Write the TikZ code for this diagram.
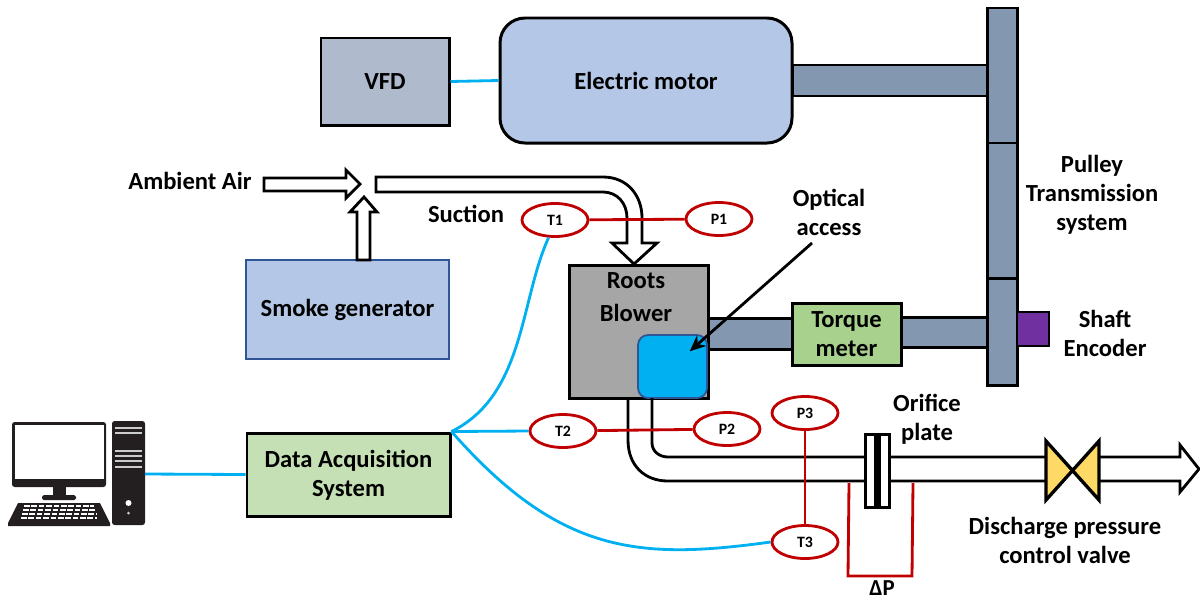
\documentclass[tikz,border=0pt]{standalone}
\usepackage{fontspec}
\setmainfont{Carlito}
\usepackage{xcolor}
\usetikzlibrary{calc,arrows.meta,positioning,shapes.geometric}
\definecolor{steel}{HTML}{8497B0}
\definecolor{paleblue}{HTML}{B4C7E7}
\definecolor{edgeblue}{HTML}{2F5597}
\definecolor{palegreen}{HTML}{C5E0B4}
\definecolor{torquegreen}{HTML}{A9D18E}
\definecolor{encoderviolet}{HTML}{7030A0}
\definecolor{valveyellow}{HTML}{FFD966}
\definecolor{wire}{HTML}{00B0F0}
\definecolor{probe}{HTML}{C00000}
\definecolor{pcblack}{HTML}{231F20}
\begin{document}
\begin{tikzpicture}[x=0.2mm,y=-0.2mm,>={Stealth[length=3.2mm,width=2.8mm]},
      font=\fontsize{14}{16.5}\selectfont\bfseries,
      box/.style={draw=black,line width=1.7pt,align=center,inner sep=0pt},
      shaft/.style={box,fill=steel},
      sensor/.style={ellipse,draw=probe,fill=white,line width=1.6pt,minimum width=1.32cm,
                     minimum height=0.66cm,inner sep=0pt,font=\fontsize{9}{10}\selectfont\bfseries},
      wireline/.style={draw=wire,line width=1.6pt},
      probeline/.style={draw=probe,line width=1.6pt},
      pipe/.style={draw=black,line width=1.6pt},
      lbl/.style={align=center,inner sep=0pt}]
    \useasboundingbox (0,0) rectangle (1200,598);
    % boxes
    \node[box,fill=steel!65!white,minimum width=2.56cm,minimum height=1.74cm] (vfd) at (385,81.5) {VFD};
    \node[box,fill=paleblue,rounded corners=0.5cm,minimum width=5.84cm,minimum height=2.5cm] (motor) at (646,80.5) {Electric motor};
    \node[shaft,minimum width=3.9cm,minimum height=0.62cm] (shafttop) at (889.5,80.5) {};
    \node[shaft,minimum width=1.68cm,minimum height=0.62cm] (shaftleft) at (750,333.5) {};
    \node[shaft,minimum width=1.72cm,minimum height=0.6cm] (shaftright) at (944,332) {};
    \node[shaft,minimum width=0.6cm,minimum height=2.7cm] (pulleya) at (1002,75.5) {};
    \node[shaft,minimum width=0.6cm,minimum height=2.7cm] (pulleyb) at (1002,210.5) {};
    \node[shaft,minimum width=0.6cm,minimum height=2.14cm] (pulleyc) at (1002,331.5) {};
    \node[box,fill=encoderviolet,line width=1pt,minimum width=0.64cm,minimum height=0.68cm] (encoder) at (1033,329) {};
    \node[box,fill=torquegreen,minimum width=2.18cm,minimum height=1.24cm] (torque) at (846.5,334) {Torque\\meter};
    \node[box,fill=black!35,minimum width=2.78cm,minimum height=2.66cm] (blower) at (638.5,331.5) {};
    \node[lbl] (blowertext) at (636,297) {Roots\\[2pt]Blower};
    \node[draw=edgeblue,fill=wire,line width=1pt,rounded corners=0.2cm,minimum width=1.38cm,minimum height=1.26cm,inner sep=0pt] (window) at (672.5,366.5) {};
    \node[draw=edgeblue,fill=paleblue,line width=1pt,minimum width=4.06cm,minimum height=1.98cm,inner sep=0pt] (smoke) at (347.5,309.5) {Smoke generator};
    \node[box,fill=palegreen,minimum width=4.06cm,minimum height=1.66cm] (daq) at (348.5,474.5) {};
    \node[lbl] (daqtext) at (348.5,475.5) {Data Acquisition\\System};
    % air arrows
    \draw[pipe,fill=white] (264,178) -- (346,178) -- (346,170) -- (360,184) -- (346,198) -- (346,191) -- (264,191) -- cycle;
    \draw[pipe,fill=white] (357,260) -- (357,212) -- (350,212) -- (364,197) -- (377,212) -- (370,212) -- (370,260) -- cycle;
    \draw[pipe,fill=white] (376,177) -- (603,177) .. controls (627,177) and (642,195) .. (642,218) -- (642,243) -- (657,243)
       -- (634,264) -- (612,243) -- (627,243) -- (627,218) .. controls (627,203) and (617,192) .. (603,192) -- (376,192) -- cycle;
    % discharge pipe
    \coordinate (pipelow) at (628,398);
    \coordinate (pipehigh) at (652,398);
    \draw[pipe] (pipelow) -- (628,440) .. controls (628,466) and (645,481) .. (668,481) -- (1046,481);
    \draw[pipe] (pipehigh) -- (652,443) .. controls (652,451) and (659,457) .. (668,457) -- (1046,457);
    \draw[pipe] (1099,457) -- (1180,457) -- (1180,445) -- (1199,469) -- (1180,492) -- (1180,481) -- (1099,481);
    \node[box,fill=white,minimum width=0.48cm,minimum height=1.46cm] (orifice) at (877,470.5) {};
    \node[fill=black,minimum width=0.14cm,minimum height=1.46cm,inner sep=0pt] (plate) at (877,470.5) {};
    \draw[line width=1.9pt,fill=valveyellow,line join=miter] (1046,441) -- (1099,500) -- (1099,441) -- (1046,500) -- cycle;
    % sensors
    \node[sensor] (t1) at (555,220) {T1};
    \node[sensor] (p1) at (719,219) {P1};
    \node[sensor] (t2) at (563,431) {T2};
    \node[sensor] (p2) at (727,429) {P2};
    \node[sensor] (p3) at (805,413) {P3};
    \node[sensor] (t3) at (805,542) {T3};
    \draw[probeline] (t1) -- (p1);
    \draw[probeline] (t2) -- (p2);
    \draw[probeline] (p3) -- (t3);
    \coordinate (dpleft) at (849,483);
    \coordinate (dpright) at (913,483);
    \draw[probeline] (dpleft) -- (848,576) -- (912,576) -- (dpright);
    % signal wires
    \draw[wireline] (vfd.east) -- (motor.west);
    \draw[wireline] (daq.north east) .. controls (525,395) and (520,300) .. (t1.250);
    \draw[wireline] (daq.north east) -- (t2.west);
    \draw[wireline] (daq.north east) .. controls (560,555) and (640,560) .. (t3.west);
    % computer
    \fill[pcblack,rounded corners=1.5pt] (12,422) rectangle (106,487);
    \fill[white] (15,425) rectangle (104,479);
    \fill[pcblack] (53,487) rectangle (66,496);
    \fill[pcblack,rounded corners=1pt] (42,495) rectangle (76,500);
    \fill[pcblack] (18,503) -- (100,503) -- (110,523) -- (110,526) -- (8,526) -- (8,523) -- cycle;
    \foreach \row in {506,510,514,518}
      \draw[white,line width=1.6pt,dash pattern=on 3.2pt off 1pt] ($(59,\row)+(-35-\row/4+126.5,0)$) -- ($(59,\row)+(35+\row/4-126.5,0)$);
    \fill[pcblack,rounded corners=1.5pt] (112,421) rectangle (145,525);
    \foreach \row in {428,433,451,456,461,467}
      \fill[black!20] (115,\row-1) rectangle (142,\row+1);
    \fill[white] (128.5,503) circle (3);
    \fill[black!20] (128.5,513) circle (1.5);
    \coordinate (tower) at (145,474);
    \draw[wireline] (tower) -- (daq.west);
    % pointer
    \coordinate (pointer) at (812,243);
    \draw[->,line width=1.6pt,shorten >=0.46cm] (pointer) -- (window.center);
    % labels
    \node[lbl] (ambient) at (190,181) {Ambient Air};
    \node[lbl] (suction) at (466,214) {Suction};
    \node[lbl] (optical) at (829,212) {Optical\\access};
    \node[lbl] (pulley) at (1092,195) {Pulley\\Transmission\\system};
    \node[lbl] (shafttext) at (1105,333) {Shaft\\Encoder};
    \node[lbl] (orificetext) at (927,419) {Orifice\\plate};
    \node[lbl] (valvetext) at (1065,540) {Discharge pressure\\control valve};
    \node[lbl,font=\fontsize{13}{15}\selectfont\bfseries] (dp) at (882,588.5) {ΔP};
  \end{tikzpicture}
\end{document}
